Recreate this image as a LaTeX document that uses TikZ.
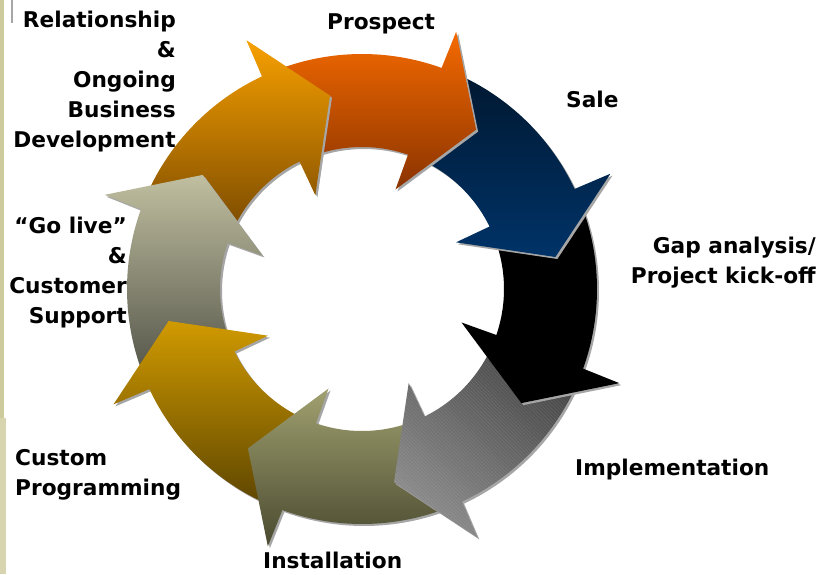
\documentclass[tikz,border=0pt]{standalone}
\usepackage{fontspec}
\setmainfont{DejaVu Sans}
\usetikzlibrary{patterns}
\definecolor{relTop}{RGB}{247,160,0}   \definecolor{relBot}{RGB}{122,74,0}
\definecolor{proTop}{RGB}{245,106,0}   \definecolor{proBot}{RGB}{138,51,0}
\definecolor{salTop}{RGB}{0,24,48}     \definecolor{salBot}{RGB}{0,51,104}
\definecolor{impTop}{RGB}{70,70,70}    \definecolor{impBot}{RGB}{140,140,140}
\definecolor{insTop}{RGB}{160,160,112} \definecolor{insBot}{RGB}{74,74,48}
\definecolor{cusTop}{RGB}{208,154,0}   \definecolor{cusBot}{RGB}{94,70,0}
\definecolor{livTop}{RGB}{192,191,160} \definecolor{livBot}{RGB}{85,85,74}
\definecolor{strip}{RGB}{205,203,155}
% one ring segment with its head, #1 = angle of the tip
\newcommand{\cyclepath}[1]{(#1+15.8:\rout) arc[start angle=#1+15.8, end angle=#1+57, radius=\rout]
	-- (#1+57:\rin) arc[start angle=#1+57, end angle=#1+16.7, radius=\rin]
	-- (#1+17:105) -- (#1:196) -- (#1+15.5:274) -- cycle}
\begin{document}
\begin{tikzpicture}[x=0.03cm, y=0.03cm, line join=round,
	lab/.style={font=\fontsize{18.5}{25.6}\selectfont\bfseries, inner sep=0pt},
	shadow/.style={fill=black!35, shift={(2,-2)}},
	relship/.style={top color=relTop, bottom color=relBot},
	prospect/.style={top color=proTop, bottom color=proBot},
	sale/.style={top color=salTop, bottom color=salBot},
	gap/.style={top color=black, bottom color=black},
	implem/.style={top color=impTop, bottom color=impBot, shading angle=-40,
		postaction={pattern=north west lines, pattern color=white, opacity=0.1}},
	install/.style={top color=insTop, bottom color=insBot},
	custom/.style={top color=cusTop, bottom color=cusBot},
	golive/.style={top color=livTop, bottom color=livBot}]
	\useasboundingbox (0,0) rectangle (822,574);
	\def\rin{142} \def\rout{235}
	% left edge of the slide
	\fill[strip] (0,156) rectangle (4,574);
	\fill[strip!80!white] (0,0) rectangle (6,156);
	\draw[gray!70, line width=1.3] (12,574) -- (12,551);
	\begin{scope}[shift={(362,285)}]
		\foreach \a/\sty in {99.4/relship, 144.4/golive, -170.6/custom, -125.6/install,
			-80.6/implem, -35.6/gap, 9.4/sale, 54.4/prospect}{
			\fill[shadow] \cyclepath{\a};
			\shade[\sty] \cyclepath{\a};
		}
		% head of the first arrow again, over the tail of the last
		\fill[shadow] (99.4+17:105) -- (99.4:196) -- (99.4+15.5:274) -- cycle;
		\begin{scope}
			\clip (99.4+17:105) -- (99.4:196) -- (99.4+15.5:274) -- cycle;
			\shade[relship] \cyclepath{99.4};
		\end{scope}
	\end{scope}
	\node[lab, anchor=base east, align=right] (relship) at (176,427) {Relationship\\\&\\Ongoing\\Business\\Development};
	\node[lab, anchor=base west] (prospect) at (327,544) {Prospect};
	\node[lab, anchor=base west] (sale) at (566,467) {Sale};
	\node[lab, anchor=base east, align=right] (gap) at (816,291) {Gap analysis/\\Project kick-off};
	\node[lab, anchor=base west] (implem) at (575,99) {Implementation};
	\node[lab, anchor=base west] (install) at (263,6) {Installation};
	\node[lab, anchor=base west, align=left] (custom) at (15,79) {Custom\\Programming};
	\node[lab, anchor=base east, align=right] (golive) at (127,251) {“Go live”\\\&\hspace*{0.3cm}\\Customer\\Support};
\end{tikzpicture}
\end{document}
